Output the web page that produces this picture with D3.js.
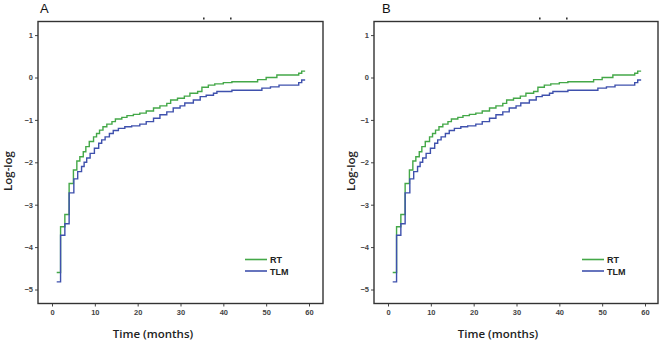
<!DOCTYPE html>
<html><head><meta charset="utf-8">
<script src="https://cdn.jsdelivr.net/npm/d3@7"></script>
<style>body{margin:0;background:#fff}svg{display:block}</style>
</head><body>
<svg id="c" width="663" height="344"></svg>
<script>
const panels = ["A", "B"];
const xTicks = [0, 10, 20, 30, 40, 50, 60];
const yTicks = [1, 0, -1, -2, -3, -4, -5];
const seriesNames = ["RT", "TLM"];
const xTitle = "Time (months)";
const yTitle = "Log-log";

const rtTime = [1.1, 2.0, 3.0, 4.0, 5.0, 5.8, 6.5, 7.3, 7.9, 8.7, 9.7, 10.4, 11.1, 11.9, 12.8, 14.0, 14.8, 16.3, 17.5, 19.0, 20.5, 22.0, 23.7, 25.2, 26.8, 27.7, 29.3, 30.9, 32.2, 34.0, 35.0, 36.5, 38.0, 40.0, 42.0, 48.0, 50.0, 52.5, 57.6, 58.3, 59.1];
const rtVal  = [-4.60, -3.52, -3.23, -2.50, -2.18, -1.97, -1.87, -1.75, -1.63, -1.51, -1.40, -1.32, -1.24, -1.16, -1.10, -1.04, -0.98, -0.94, -0.90, -0.87, -0.84, -0.79, -0.72, -0.67, -0.61, -0.53, -0.49, -0.44, -0.37, -0.33, -0.23, -0.18, -0.15, -0.12, -0.10, -0.05, 0.00, 0.06, 0.10, 0.15, 0.15];

const tlmTime = [1.1, 2.0, 3.0, 4.0, 5.1, 6.0, 6.9, 7.5, 8.1, 8.9, 9.9, 10.9, 11.6, 12.4, 13.4, 14.3, 15.5, 17.0, 18.6, 20.5, 22.0, 23.7, 25.2, 26.8, 28.3, 29.9, 31.0, 33.0, 34.6, 36.0, 37.7, 38.5, 42.0, 49.0, 51.0, 53.0, 57.6, 58.3, 59.1];
const tlmVal  = [-4.82, -3.72, -3.45, -2.72, -2.39, -2.22, -2.10, -2.00, -1.90, -1.79, -1.67, -1.55, -1.47, -1.40, -1.32, -1.25, -1.20, -1.16, -1.14, -1.10, -1.04, -0.96, -0.88, -0.81, -0.72, -0.67, -0.60, -0.53, -0.45, -0.42, -0.37, -0.33, -0.30, -0.25, -0.22, -0.18, -0.12, -0.06, -0.06];

const colors = ["#44a848", "#3f51ad"];

const layout = [
  {frameL: 38, frameR: 323, x0: 52, x60: 309, label: [40, 13], xTitleX: 153, yTitleX: 12, legX: 245, dots: [203, 230]},
  {frameL: 374, frameR: 658, x0: 388, x60: 645, label: [382, 13], xTitleX: 498, yTitleX: 355, legX: 582, dots: [539, 566]}
];

const svg = d3.select("#c");
const frameT = 21.5, frameB = 303.5;
const y = d3.scaleLinear().domain([-5, 1]).range([289.5, 35.1]);

const series = [
  rtTime.map((t, i) => [t, rtVal[i]]),
  tlmTime.map((t, i) => [t, tlmVal[i]])
];

panels.forEach((p, pi) => {
  const L = layout[pi];
  const g = svg.append("g");
  const x = d3.scaleLinear().domain([0, 60]).range([L.x0, L.x60]);

  const ya = g.append("g").attr("transform", `translate(${L.frameL},0)`)
    .call(d3.axisLeft(y).tickValues(yTicks).tickSize(3).tickPadding(2).tickFormat(d3.format("d")));
  ya.select(".domain").remove();
  ya.selectAll("text").attr("font-family", "Liberation Sans, Arial, sans-serif").attr("font-size", 7.5).attr("font-weight", "bold").attr("fill", "#444");
  ya.selectAll("line").attr("stroke", "#444");

  const xa = g.append("g").attr("transform", `translate(0,${frameB})`)
    .call(d3.axisBottom(x).tickValues(xTicks).tickSize(3).tickPadding(3).tickFormat(d3.format("d")));
  xa.select(".domain").remove();
  xa.selectAll("text").attr("font-family", "Liberation Sans, Arial, sans-serif").attr("font-size", 7.5).attr("font-weight", "bold").attr("fill", "#444");
  xa.selectAll("line").attr("stroke", "#444");

  const line = d3.line().x(d => x(d[0])).y(d => y(d[1])).curve(d3.curveStepAfter);
  series.forEach((s, si) => {
    g.append("path").attr("d", line(s)).attr("fill", "none")
      .attr("stroke", colors[si]).attr("stroke-width", 1.4);
  });

  g.append("rect").attr("x", L.frameL).attr("y", frameT)
    .attr("width", L.frameR - L.frameL).attr("height", frameB - frameT)
    .attr("fill", "none").attr("stroke", "#333").attr("stroke-width", 1.4);

  L.dots.forEach(dx => g.append("rect").attr("x", dx).attr("y", 17.5).attr("width", 1.6).attr("height", 2).attr("fill", "#333"));

  g.append("text").attr("x", L.label[0]).attr("y", L.label[1]).text(p)
    .attr("font-family", "Liberation Sans, Arial, sans-serif").attr("font-size", 13).attr("fill", "#111");

  g.append("text").attr("x", L.xTitleX).attr("y", 338).attr("text-anchor", "middle").text(xTitle)
    .attr("font-family", "Open Sans, sans-serif").attr("font-size", 11.5).attr("font-weight", 600).attr("fill", "#222");
  g.append("text").attr("transform", `translate(${L.yTitleX},171) rotate(-90)`).attr("text-anchor", "middle").text(yTitle)
    .attr("font-family", "Open Sans, sans-serif").attr("font-size", 11.5).attr("font-weight", 600).attr("fill", "#222");

  seriesNames.forEach((n, si) => {
    const ly = 259.5 + si * 11.5;
    g.append("line").attr("x1", L.legX).attr("x2", L.legX + 22).attr("y1", ly).attr("y2", ly)
      .attr("stroke", colors[si]).attr("stroke-width", 1.6);
    g.append("text").attr("x", L.legX + 25).attr("y", ly + 3.5).text(n)
      .attr("font-family", "Liberation Sans, Arial, sans-serif").attr("font-size", 9).attr("font-weight", "bold").attr("fill", "#222");
  });
});
</script>
</body></html>
